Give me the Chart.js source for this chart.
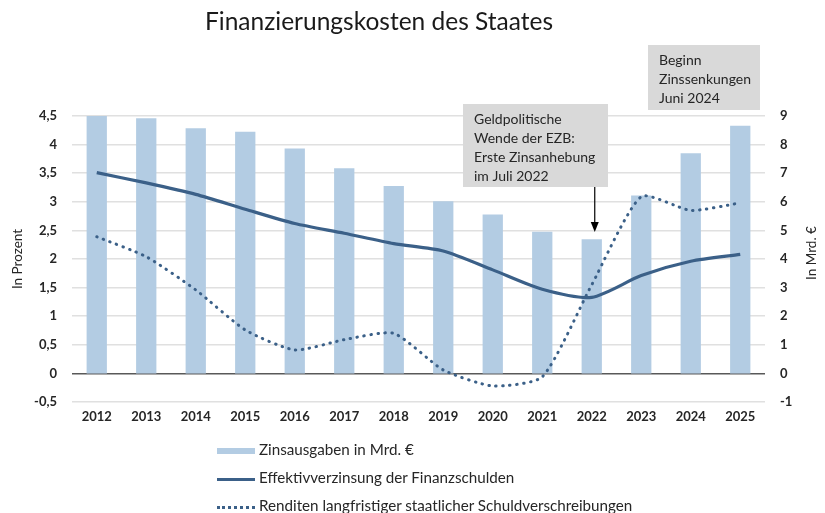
<!DOCTYPE html>
<html>
<head>
<meta charset="utf-8">
<script src="https://cdn.jsdelivr.net/npm/chart.js@4.4.1/dist/chart.umd.min.js"></script>
<style>
  html, body { margin: 0; padding: 0; background: #fff; }
  #wrap { position: relative; width: 825px; height: 513px; font-family: Lato, sans-serif; color: #262626; }
  #chart { position: absolute; left: 0; top: 0; }
  .leg { position: absolute; left: 217px; font-size: 15.2px; height: 20px; line-height: 20px; white-space: nowrap; }
  .sw { display: inline-block; width: 38px; vertical-align: middle; margin-right: 4px; }
</style>
</head>
<body>
<div id="wrap">
  <canvas id="chart" width="825" height="513"></canvas>
  <div class="leg" style="top:439px"><span class="sw" style="height:6px;background:#b3cce3"></span>Zinsausgaben in Mrd. €</div>
  <div class="leg" style="top:467px"><span class="sw" style="height:3px;background:#3b6088"></span>Effektivverzinsung der Finanzschulden</div>
  <div class="leg" style="top:495px"><span class="sw" style="height:0;border-top:3px dotted #3b6088"></span>Renditen langfristiger staatlicher Schuldverschreibungen</div>
</div>
<script>
const years = ['2012', '2013', '2014', '2015', '2016', '2017', '2018', '2019', '2020', '2021', '2022', '2023', '2024', '2025'];
// Zinsausgaben, right axis (Mrd. €)
const interestSpending = [9.0, 8.92, 8.57, 8.45, 7.86, 7.17, 6.55, 6.02, 5.56, 4.95, 4.69, 6.22, 7.70, 8.66];
// left axis (Prozent)
const effectiveRate = [3.51, 3.33, 3.13, 2.87, 2.62, 2.45, 2.27, 2.14, 1.81, 1.47, 1.33, 1.71, 1.96, 2.08];
const bondYields = [2.39, 2.04, 1.46, 0.76, 0.41, 0.59, 0.70, 0.06, -0.22, -0.06, 1.55, 3.09, 2.85, 2.98];

const noteEzb = ['Geldpolitische', 'Wende der EZB:', 'Erste Zinsanhebung', 'im Juli 2022'];
const noteCut = ['Beginn', 'Zinssenkungen', 'Juni 2024'];

const lineColor = '#3b6088';
const fontFam = 'Lato, sans-serif';

// title, right axis title, grey note boxes and the arrow
const extras = {
  id: 'extras',
  afterDraw(chart) {
    const ctx = chart.ctx;
    const x = chart.scales.x;
    ctx.save();
    ctx.fillStyle = '#1a1a1a';
    ctx.font = '24.5px ' + fontFam;
    ctx.textAlign = 'center';
    ctx.textBaseline = 'middle';
    ctx.fillText('Finanzierungskosten des Staates', 379, 22);

    // right axis title, reads bottom to top like the left one
    ctx.save();
    ctx.translate(812, 253);
    ctx.rotate(-Math.PI / 2);
    ctx.fillStyle = '#262626';
    ctx.font = '13.5px ' + fontFam;
    ctx.fillText('In Mrd. €', 0, 0);
    ctx.restore();

    function box(left, top, w, h, lines) {
      ctx.fillStyle = '#d9d9d9';
      ctx.fillRect(left, top, w, h);
      ctx.fillStyle = '#262626';
      ctx.font = '14px ' + fontFam;
      ctx.textAlign = 'left';
      lines.forEach((t, i) => ctx.fillText(t, left + 11, top + 15 + i * 19));
    }
    box(463, 104, 145, 83, noteEzb);
    box(648, 45, 112, 65, noteCut);

    // arrow down to 2022
    const ax = x.getPixelForValue(10) + 3;
    ctx.strokeStyle = '#000';
    ctx.lineWidth = 1.2;
    ctx.beginPath();
    ctx.moveTo(ax, 187);
    ctx.lineTo(ax, 226);
    ctx.stroke();
    ctx.fillStyle = '#000';
    ctx.beginPath();
    ctx.moveTo(ax - 4, 222);
    ctx.lineTo(ax + 4, 222);
    ctx.lineTo(ax, 232);
    ctx.closePath();
    ctx.fill();
    ctx.restore();
  }
};

new Chart(document.getElementById('chart'), {
  data: {
    labels: years,
    datasets: [
      {
        type: 'line',
        label: 'Effektivverzinsung der Finanzschulden',
        data: effectiveRate,
        yAxisID: 'y',
        borderColor: lineColor,
        borderWidth: 3.2,
        pointRadius: 0,
        tension: 0.25,
        order: 1
      },
      {
        type: 'line',
        label: 'Renditen langfristiger staatlicher Schuldverschreibungen',
        data: bondYields,
        yAxisID: 'y',
        borderColor: lineColor,
        borderWidth: 3,
        borderDash: [0.5, 6.5],
        borderCapStyle: 'round',
        pointRadius: 0,
        tension: 0.2,
        order: 0
      },
      {
        type: 'bar',
        label: 'Zinsausgaben in Mrd. €',
        data: interestSpending,
        yAxisID: 'y1',
        backgroundColor: '#b3cce3',
        barPercentage: 0.41,
        categoryPercentage: 1,
        order: 2
      }
    ]
  },
  options: {
    responsive: false,
    animation: false,
    layout: { padding: { top: 116, bottom: 0, left: 0, right: 0 } },
    plugins: {
      legend: { display: false },
      tooltip: { enabled: false }
    },
    scales: {
      x: {
        grid: { display: false, drawTicks: false },
        border: { display: false },
        ticks: { color: '#262626', padding: 7, font: { size: 13, family: fontFam, weight: 'bold' } },
        afterFit: s => { s.height = 111; }
      },
      y: {
        position: 'left',
        min: -0.5,
        max: 4.5,
        grid: {
          drawTicks: false,
          lineWidth: 1.5,
          color: c => (c.tick && c.tick.value === 0) ? '#595959' : '#e0e0e0'
        },
        border: { display: false },
        ticks: {
          stepSize: 0.5,
          padding: 15,
          color: '#262626',
          font: { size: 13, family: fontFam, weight: 'bold' },
          callback: v => String(v).replace('.', ',')
        },
        title: { display: true, text: 'In Prozent', color: '#262626', padding: { top: 10, bottom: 0 }, font: { size: 13.5, family: fontFam } },
        afterFit: s => { s.width = 72; }
      },
      y1: {
        position: 'right',
        min: -1,
        max: 9,
        grid: { display: false, drawTicks: false },
        border: { display: false },
        ticks: { stepSize: 1, padding: 15, color: '#262626', font: { size: 13, family: fontFam, weight: 'bold' } },
        afterFit: s => { s.width = 60; }
      }
    }
  },
  plugins: [extras]
});
</script>
</body>
</html>
